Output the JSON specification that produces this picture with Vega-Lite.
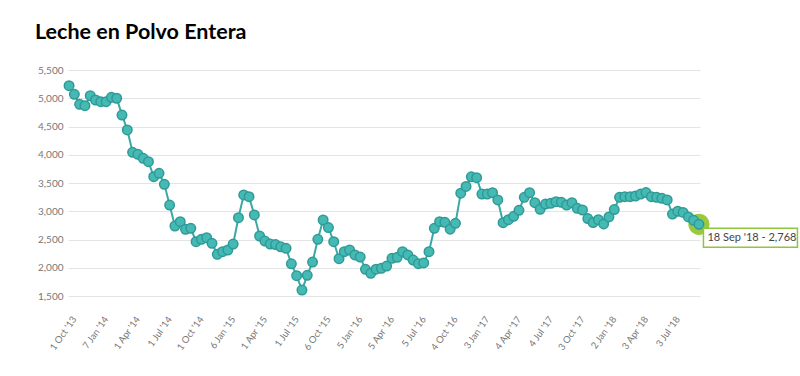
{
  "$schema": "https://vega.github.io/schema/vega-lite/v6.json",
  "width": 632,
  "height": 226,
  "autosize": {"type": "none"},
  "padding": {"left": 68, "top": 70, "right": 100, "bottom": 80},
  "background": "white",
  "title": {"text": "Leche en Polvo Entera", "anchor": "start", "frame": "group", "dx": -33, "offset": 22, "font": "Lato", "fontSize": 21.5, "fontWeight": "bold", "color": "#000000"},
  "config": {"view": {"stroke": null}},
  "data": {"values": [
    {"date": "2013-10-01", "price": 5222}, {"date": "2013-10-15", "price": 5070}, {"date": "2013-11-05", "price": 4893}, {"date": "2013-11-19", "price": 4868}, {"date": "2013-12-03", "price": 5045}, {"date": "2013-12-17", "price": 4969},
    {"date": "2014-01-07", "price": 4940}, {"date": "2014-01-21", "price": 4940}, {"date": "2014-02-04", "price": 5017}, {"date": "2014-02-18", "price": 5000}, {"date": "2014-03-04", "price": 4703}, {"date": "2014-03-18", "price": 4440},
    {"date": "2014-04-01", "price": 4043}, {"date": "2014-04-16", "price": 4008}, {"date": "2014-05-06", "price": 3937}, {"date": "2014-05-20", "price": 3877}, {"date": "2014-06-03", "price": 3611}, {"date": "2014-06-17", "price": 3672},
    {"date": "2014-07-01", "price": 3477}, {"date": "2014-07-15", "price": 3110}, {"date": "2014-08-05", "price": 2739}, {"date": "2014-08-19", "price": 2815}, {"date": "2014-09-02", "price": 2680}, {"date": "2014-09-16", "price": 2698},
    {"date": "2014-10-01", "price": 2461}, {"date": "2014-10-15", "price": 2503}, {"date": "2014-11-04", "price": 2532}, {"date": "2014-11-18", "price": 2433}, {"date": "2014-12-02", "price": 2238}, {"date": "2014-12-16", "price": 2284},
    {"date": "2015-01-06", "price": 2314}, {"date": "2015-01-20", "price": 2420}, {"date": "2015-02-03", "price": 2886}, {"date": "2015-02-17", "price": 3288}, {"date": "2015-03-03", "price": 3258}, {"date": "2015-03-17", "price": 2934},
    {"date": "2015-04-01", "price": 2562}, {"date": "2015-04-15", "price": 2473}, {"date": "2015-05-05", "price": 2420}, {"date": "2015-05-19", "price": 2410}, {"date": "2015-06-02", "price": 2370}, {"date": "2015-06-16", "price": 2344},
    {"date": "2015-07-01", "price": 2070}, {"date": "2015-07-15", "price": 1860}, {"date": "2015-08-04", "price": 1606}, {"date": "2015-08-18", "price": 1866}, {"date": "2015-09-01", "price": 2100}, {"date": "2015-09-15", "price": 2503},
    {"date": "2015-10-06", "price": 2845}, {"date": "2015-10-20", "price": 2712}, {"date": "2015-11-03", "price": 2461}, {"date": "2015-11-17", "price": 2160}, {"date": "2015-12-01", "price": 2284}, {"date": "2015-12-15", "price": 2314},
    {"date": "2016-01-05", "price": 2226}, {"date": "2016-01-19", "price": 2190}, {"date": "2016-02-02", "price": 1972}, {"date": "2016-02-16", "price": 1901}, {"date": "2016-03-01", "price": 1975}, {"date": "2016-03-15", "price": 1990},
    {"date": "2016-04-05", "price": 2030}, {"date": "2016-04-19", "price": 2167}, {"date": "2016-05-03", "price": 2185}, {"date": "2016-05-17", "price": 2285}, {"date": "2016-06-01", "price": 2226}, {"date": "2016-06-15", "price": 2137},
    {"date": "2016-07-05", "price": 2072}, {"date": "2016-07-19", "price": 2085}, {"date": "2016-08-02", "price": 2284}, {"date": "2016-08-16", "price": 2698}, {"date": "2016-09-06", "price": 2815}, {"date": "2016-09-20", "price": 2805},
    {"date": "2016-10-04", "price": 2683}, {"date": "2016-10-18", "price": 2786}, {"date": "2016-11-01", "price": 3320}, {"date": "2016-11-15", "price": 3440}, {"date": "2016-12-06", "price": 3610}, {"date": "2016-12-20", "price": 3595},
    {"date": "2017-01-03", "price": 3305}, {"date": "2017-01-17", "price": 3305}, {"date": "2017-02-07", "price": 3328}, {"date": "2017-02-21", "price": 3200}, {"date": "2017-03-07", "price": 2797}, {"date": "2017-03-21", "price": 2850},
    {"date": "2017-04-04", "price": 2910}, {"date": "2017-04-18", "price": 3016}, {"date": "2017-05-02", "price": 3247}, {"date": "2017-05-16", "price": 3328}, {"date": "2017-06-06", "price": 3151}, {"date": "2017-06-20", "price": 3034},
    {"date": "2017-07-04", "price": 3128}, {"date": "2017-07-18", "price": 3140}, {"date": "2017-08-01", "price": 3169}, {"date": "2017-08-15", "price": 3158}, {"date": "2017-09-05", "price": 3110}, {"date": "2017-09-19", "price": 3151},
    {"date": "2017-10-03", "price": 3052}, {"date": "2017-10-17", "price": 3022}, {"date": "2017-11-07", "price": 2870}, {"date": "2017-11-21", "price": 2800}, {"date": "2017-12-05", "price": 2850}, {"date": "2017-12-19", "price": 2775},
    {"date": "2018-01-02", "price": 2900}, {"date": "2018-01-16", "price": 3030}, {"date": "2018-02-06", "price": 3247}, {"date": "2018-02-20", "price": 3258}, {"date": "2018-03-06", "price": 3258}, {"date": "2018-03-20", "price": 3270},
    {"date": "2018-04-03", "price": 3305}, {"date": "2018-04-17", "price": 3330}, {"date": "2018-05-01", "price": 3258}, {"date": "2018-05-15", "price": 3247}, {"date": "2018-06-05", "price": 3229}, {"date": "2018-06-19", "price": 3200},
    {"date": "2018-07-03", "price": 2950}, {"date": "2018-07-17", "price": 3000}, {"date": "2018-08-07", "price": 2980}, {"date": "2018-08-21", "price": 2900}, {"date": "2018-09-04", "price": 2840}, {"date": "2018-09-18", "price": 2768}
  ]},
  "encoding": {
    "x": {
      "field": "date", "type": "ordinal", "sort": null,
      "scale": {"type": "point", "padding": 0.2},
      "axis": {
        "title": null, "grid": false, "domain": false, "ticks": false,
        "values": ["2013-10-01","2014-01-07","2014-04-01","2014-07-01","2014-10-01","2015-01-06","2015-04-01","2015-07-01","2015-10-06","2016-01-05","2016-04-05","2016-07-05","2016-10-04","2017-01-03","2017-04-04","2017-07-04","2017-10-03","2018-01-02","2018-04-03","2018-07-03"],
        "labelExpr": "utcFormat(toDate(datum.value), \"%-d %b '%y\")",
        "labelAngle": -55, "labelPadding": 21, "labelOffset": 5, "labelOverlap": false,
        "labelFont": "Lato", "labelFontSize": 9.5, "labelColor": "#777777"
      }
    },
    "y": {
      "field": "price", "type": "quantitative",
      "scale": {"domain": [1500, 5500], "nice": false, "zero": false},
      "axis": {
        "title": null, "domain": false, "ticks": false, "grid": true, "gridColor": "#e4e4e4", "gridWidth": 1,
        "values": [1500, 2000, 2500, 3000, 3500, 4000, 4500, 5000, 5500], "format": ",.0f",
        "labelFont": "Lato", "labelFontSize": 10, "labelColor": "#777777", "labelPadding": 5
      }
    }
  },
  "layer": [
    {"mark": {"type": "line", "color": "#3aa9a5", "strokeWidth": 2}},
    {"transform": [{"filter": "datum.date == '2018-09-18'"}], "mark": {"type": "circle", "size": 450, "color": "#9cc93c", "opacity": 1}},
    {"mark": {"type": "circle", "size": 90, "fill": "#45b9b4", "stroke": "#2f9a96", "strokeWidth": 1.5, "opacity": 1}},
    {
      "transform": [{"filter": "datum.date == '2018-09-18'"}],
      "mark": {"type": "rect", "fill": "white", "stroke": "#8dc63f", "strokeWidth": 1.5, "xOffset": 4.5, "x2Offset": 98.5, "yOffset": 4, "y2Offset": 23},
      "encoding": {"x2": {"field": "date"}, "y2": {"field": "price"}}
    },
    {
      "transform": [
        {"filter": "datum.date == '2018-09-18'"},
        {"calculate": "utcFormat(toDate(datum.date), \"%-d %b '%y\") + '  -  ' + format(datum.price, ',')", "as": "etiqueta"}
      ],
      "mark": {"type": "text", "align": "left", "baseline": "middle", "dx": 8.5, "dy": 13.5, "font": "Lato", "fontSize": 11, "color": "#444444"},
      "encoding": {"text": {"field": "etiqueta"}}
    }
  ]
}
